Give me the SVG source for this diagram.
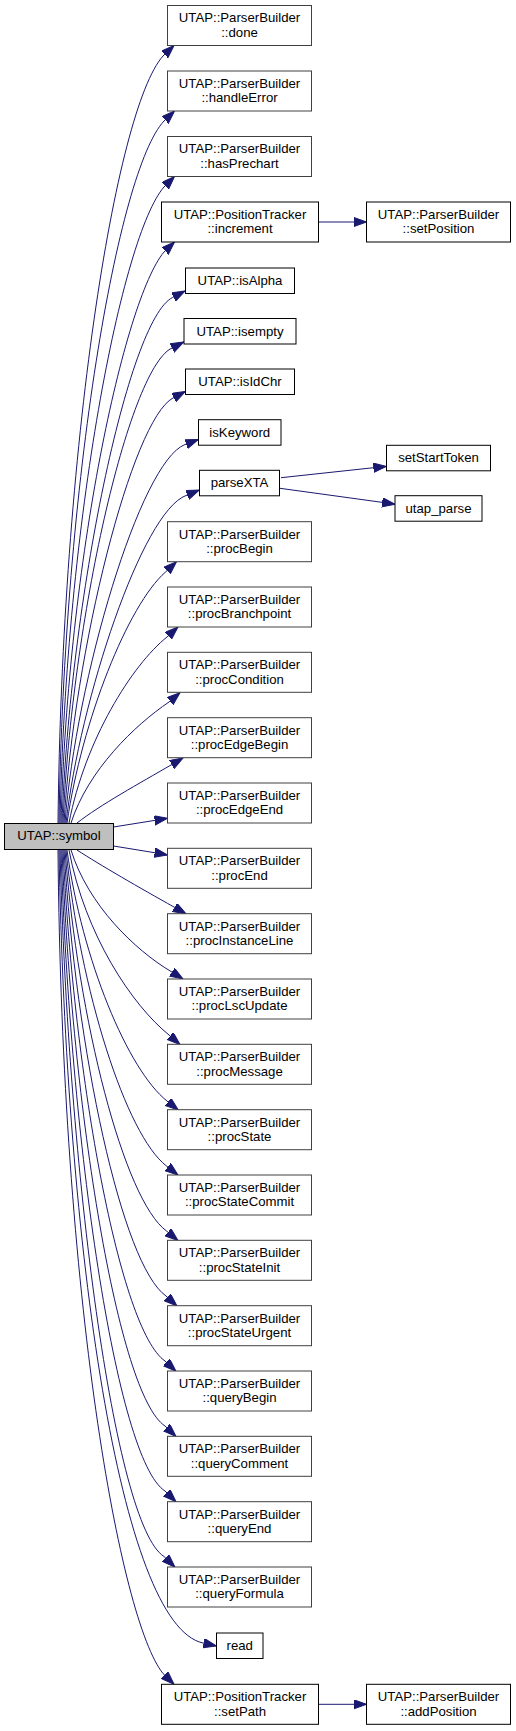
<svg xmlns="http://www.w3.org/2000/svg" width="516" height="1731" viewBox="0 0 516 1731">
<defs>
<marker id="ah" markerUnits="userSpaceOnUse" markerWidth="14" markerHeight="10" refX="13" refY="4.7" orient="auto">
<path d="M0,0 L13,4.7 L0,9.4 Z" fill="#191970" stroke="#191970" stroke-width="1"/>
</marker>
</defs>
<style>
text{font-family:"Liberation Sans",Arial,sans-serif;font-size:13.2px;fill:#000;text-anchor:middle}
.g rect{fill:#fff;stroke:#404040;stroke-width:1}
.b rect{fill:#fff;stroke:#000;stroke-width:1}
.root rect{fill:#bfbfbf;stroke:#000;stroke-width:1}
#edges path{fill:none;stroke:#191970;stroke-width:1;marker-end:url(#ah)}
</style>
<rect width="516" height="1731" fill="#fff"/>
<g id="edges">
<path d="M58,823 C62,450 115,110 163,56 L174,45.5"/>
<path d="M59,823 C64,480 118,170 164,121 L174.5,111"/>
<path d="M60,823 C66,520 122,235 164,187 L174.5,176.5"/>
<path d="M61,823 C68,560 124,300 164,252 L174.5,242"/>
<path d="M62,823 C70,600 128,320 172.5,297.5 L185,291"/>
<path d="M63,823 C72,620 128,372 171,348.5 L183.7,342"/>
<path d="M64,823 C74,650 132,420 173,398 L185.3,391.5"/>
<path d="M65,823 C76,680 140,462 185,444.5 L198.3,439.5"/>
<path d="M66,823 C80,700 142,512 186,495.5 L199.3,490"/>
<path d="M67,823 C82,720 128,605 165.5,572 L176.5,561.7"/>
<path d="M69,823 C85,740 132,665 167,637 L178,627"/>
<path d="M71,823 C88,770 135,725 169,702 L180,692.7"/>
<path d="M77,823 C100,805 140,783 171,765 L183,758"/>
<path d="M113.5,827 L154,820.5 L167.5,818.3"/>
<path d="M113.5,846 L154,852.6 L167.5,855"/>
<path d="M77,850 C100,865 140,888 174,907 L186,913.8"/>
<path d="M71,850 C88,905 135,950 171,971.5 L183,979"/>
<path d="M69,850 C85,935 132,1005 169,1035 L180,1044.5"/>
<path d="M67,850 C82,960 128,1070 167,1101 L178.3,1110"/>
<path d="M66,850 C80,990 126,1135 166.5,1166 L178,1175"/>
<path d="M65,850 C78,1020 124,1200 166.5,1231 L178,1240.5"/>
<path d="M64,850 C76,1050 122,1265 166,1296 L177,1306"/>
<path d="M63,850 C74,1080 120,1330 165,1361 L176,1371.2"/>
<path d="M62,850 C72,1110 118,1395 165,1426 L176,1436.5"/>
<path d="M61,850 C70,1140 116,1460 165,1491 L176,1501.8"/>
<path d="M60,850 C68,1170 114,1525 164,1556.5 L175,1567.2"/>
<path d="M59,850 C66,1250 120,1625 203,1643 L216.3,1646"/>
<path d="M58,850 C62,1300 120,1620 163,1673.5 L174,1684.3"/>
<path d="M318.5,222 L353,222 L366.5,222"/>
<path d="M318.5,1704.3 L353,1704.3 L366.5,1704.3"/>
<path d="M281,477.7 L372.7,467.8 L386.3,466.5"/>
<path d="M280,488.3 L381,502.2 L395,504.2"/>
</g>
<g id="node_symbol" class="root"><rect x="4.5" y="823.5" width="109" height="26"/><text x="59" y="840">UTAP::symbol</text></g>
<g id="node_done" class="g"><rect x="167.5" y="5.5" width="144" height="40"/><text x="239.5" y="22.3">UTAP::ParserBuilder</text><text x="239.5" y="36.8">::done</text></g>
<g id="node_handleError" class="g"><rect x="167.5" y="71" width="144" height="40"/><text x="239.5" y="87.8">UTAP::ParserBuilder</text><text x="239.5" y="102.3">::handleError</text></g>
<g id="node_hasPrechart" class="g"><rect x="167.5" y="136.5" width="144" height="40"/><text x="239.5" y="153.3">UTAP::ParserBuilder</text><text x="239.5" y="167.8">::hasPrechart</text></g>
<g id="node_increment" class="b"><rect x="161.5" y="202" width="157" height="40"/><text x="240" y="218.8">UTAP::PositionTracker</text><text x="240" y="233.3">::increment</text></g>
<g id="node_setPosition" class="b"><rect x="366.5" y="202" width="144" height="40"/><text x="438.5" y="218.8">UTAP::ParserBuilder</text><text x="438.5" y="233.3">::setPosition</text></g>
<g id="node_isAlpha" class="b"><rect x="185.5" y="268" width="109" height="25.5"/><text x="240" y="285">UTAP::isAlpha</text></g>
<g id="node_isempty" class="b"><rect x="184" y="318.5" width="112" height="25.5"/><text x="240" y="335.5">UTAP::isempty</text></g>
<g id="node_isIdChr" class="b"><rect x="185.5" y="369" width="109" height="25.5"/><text x="240" y="386">UTAP::isIdChr</text></g>
<g id="node_isKeyword" class="b"><rect x="198.5" y="419.7" width="82.5" height="25.5"/><text x="239.75" y="436.5">isKeyword</text></g>
<g id="node_parseXTA" class="b"><rect x="199.5" y="470.3" width="80" height="25.5"/><text x="239.5" y="487.1">parseXTA</text></g>
<g id="node_setStartToken" class="b"><rect x="386.5" y="445.3" width="104" height="25.5"/><text x="438.5" y="462.1">setStartToken</text></g>
<g id="node_utap_parse" class="b"><rect x="395" y="495.7" width="87" height="25.5"/><text x="438.5" y="512.5">utap_parse</text></g>
<g id="node_procBegin" class="g"><rect x="167.5" y="521.7" width="144" height="40"/><text x="239.5" y="538.5">UTAP::ParserBuilder</text><text x="239.5" y="553">::procBegin</text></g>
<g id="node_procBranchpoint" class="g"><rect x="167.5" y="587" width="144" height="40"/><text x="239.5" y="603.8">UTAP::ParserBuilder</text><text x="239.5" y="618.3">::procBranchpoint</text></g>
<g id="node_procCondition" class="g"><rect x="167.5" y="652.3" width="144" height="40"/><text x="239.5" y="669.1">UTAP::ParserBuilder</text><text x="239.5" y="683.6">::procCondition</text></g>
<g id="node_procEdgeBegin" class="g"><rect x="167.5" y="717.7" width="144" height="40"/><text x="239.5" y="734.5">UTAP::ParserBuilder</text><text x="239.5" y="749">::procEdgeBegin</text></g>
<g id="node_procEdgeEnd" class="g"><rect x="167.5" y="783" width="144" height="40"/><text x="239.5" y="799.8">UTAP::ParserBuilder</text><text x="239.5" y="814.3">::procEdgeEnd</text></g>
<g id="node_procEnd" class="g"><rect x="167.5" y="848.3" width="144" height="40"/><text x="239.5" y="865.1">UTAP::ParserBuilder</text><text x="239.5" y="879.6">::procEnd</text></g>
<g id="node_procInstanceLine" class="g"><rect x="167.5" y="913.7" width="144" height="40"/><text x="239.5" y="930.5">UTAP::ParserBuilder</text><text x="239.5" y="945">::procInstanceLine</text></g>
<g id="node_procLscUpdate" class="g"><rect x="167.5" y="979" width="144" height="40"/><text x="239.5" y="995.8">UTAP::ParserBuilder</text><text x="239.5" y="1010.3">::procLscUpdate</text></g>
<g id="node_procMessage" class="g"><rect x="167.5" y="1044.3" width="144" height="40"/><text x="239.5" y="1061.1">UTAP::ParserBuilder</text><text x="239.5" y="1075.6">::procMessage</text></g>
<g id="node_procState" class="g"><rect x="167.5" y="1109.7" width="144" height="40"/><text x="239.5" y="1126.5">UTAP::ParserBuilder</text><text x="239.5" y="1141">::procState</text></g>
<g id="node_procStateCommit" class="g"><rect x="167.5" y="1175" width="144" height="40"/><text x="239.5" y="1191.8">UTAP::ParserBuilder</text><text x="239.5" y="1206.3">::procStateCommit</text></g>
<g id="node_procStateInit" class="g"><rect x="167.5" y="1240.3" width="144" height="40"/><text x="239.5" y="1257.1">UTAP::ParserBuilder</text><text x="239.5" y="1271.6">::procStateInit</text></g>
<g id="node_procStateUrgent" class="g"><rect x="167.5" y="1305.7" width="144" height="40"/><text x="239.5" y="1322.5">UTAP::ParserBuilder</text><text x="239.5" y="1337">::procStateUrgent</text></g>
<g id="node_queryBegin" class="g"><rect x="167.5" y="1371" width="144" height="40"/><text x="239.5" y="1387.8">UTAP::ParserBuilder</text><text x="239.5" y="1402.3">::queryBegin</text></g>
<g id="node_queryComment" class="g"><rect x="167.5" y="1436.3" width="144" height="40"/><text x="239.5" y="1453.1">UTAP::ParserBuilder</text><text x="239.5" y="1467.6">::queryComment</text></g>
<g id="node_queryEnd" class="g"><rect x="167.5" y="1501.7" width="144" height="40"/><text x="239.5" y="1518.5">UTAP::ParserBuilder</text><text x="239.5" y="1533">::queryEnd</text></g>
<g id="node_queryFormula" class="g"><rect x="167.5" y="1567" width="144" height="40"/><text x="239.5" y="1583.8">UTAP::ParserBuilder</text><text x="239.5" y="1598.3">::queryFormula</text></g>
<g id="node_read" class="b"><rect x="216.5" y="1633" width="46.5" height="25.5"/><text x="239.75" y="1649.8">read</text></g>
<g id="node_setPath" class="b"><rect x="161.5" y="1684.3" width="157" height="40"/><text x="240" y="1701.1">UTAP::PositionTracker</text><text x="240" y="1715.6">::setPath</text></g>
<g id="node_addPosition" class="b"><rect x="366.5" y="1684.3" width="144" height="40"/><text x="438.5" y="1701.1">UTAP::ParserBuilder</text><text x="438.5" y="1715.6">::addPosition</text></g>
</svg>
